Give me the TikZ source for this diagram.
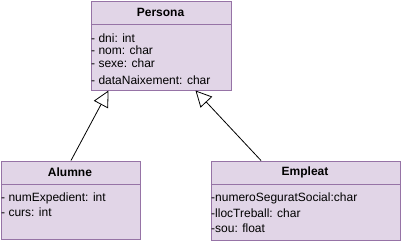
\documentclass[tikz,border=0pt]{standalone}
\usepackage{fontspec}
\setmainfont{Liberation Sans}
\usetikzlibrary{arrows.meta,calc}
\definecolor{umlfill}{HTML}{E1D5E7}
\definecolor{umldraw}{HTML}{9673A6}
\tikzset{
  classbox/.style={draw=umldraw,fill=umlfill,line width=1pt,inner sep=0pt,anchor=north west},
  classtitle/.style={font=\fontsize{12}{14}\selectfont\bfseries,inner sep=0pt},
  attr/.style={font=\fontsize{12}{14}\selectfont,inner sep=0pt,anchor=west},
  sepline/.style={draw=umldraw,line width=1pt},
  inherit/.style={draw=black,line width=0.8pt,-{Triangle[open,length=16pt,width=16pt,fill=white]}}
}
\begin{document}
\begin{tikzpicture}[x=1pt,y=-1pt]
\useasboundingbox (0,0) rectangle (401,241);
% Persona
\node[classbox,minimum width=140pt,minimum height=89pt] (persona) at (90.5,0.5) {};
\draw[sepline] (90.5,24) coordinate (pl) -- (230.5,24) coordinate (pr);
\node[classtitle] (ptitle) at (160.5,12.5) {Persona};
\node[attr] (p1) at (91,38) {- dni: int};
\node[attr] (p2) at (91,50.5) {- nom: char};
\node[attr] (p3) at (91,63.5) {- sexe: char};
\node[attr] (p4) at (91,80) {- dataNaixement: char};
% Alumne
\node[classbox,minimum width=139.5pt,minimum height=78.5pt] (alumne) at (0.5,160.5) {};
\draw[sepline] (0.5,184) coordinate (al) -- (140,184) coordinate (ar);
\node[classtitle] (atitle) at (70,172) {Alumne};
\node[attr] (a1) at (1,198) {- numExpedient: int};
\node[attr] (a2) at (1,212.5) {- curs: int};
% Empleat
\node[classbox,minimum width=189pt,minimum height=79pt] (empleat) at (210.5,160.5) {};
\draw[sepline] (210.5,184) coordinate (el) -- (399.5,184) coordinate (er);
\node[classtitle] (etitle) at (305,172) {Empleat};
\node[attr] (e1) at (211,198) {-numeroSeguratSocial:char};
\node[attr] (e2) at (211,213.5) {-llocTreball: char};
\node[attr] (e3) at (211,228) {-sou: float};
% inheritance
\draw[inherit] ($(alumne.north west)+(70.5,0)$) -- ($(persona.south west)+(18,0)$);
\draw[inherit] ($(empleat.north west)+(50.5,0)$) -- ($(persona.south west)+(105,0)$);
\end{tikzpicture}
\end{document}
